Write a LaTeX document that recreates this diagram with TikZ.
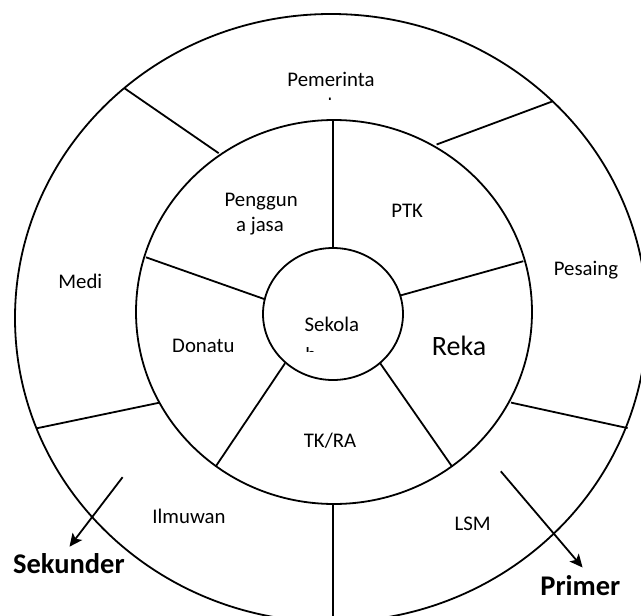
\documentclass[tikz,border=0pt]{standalone}
\usepackage{fontspec}
\setmainfont{Carlito}
\usetikzlibrary{arrows.meta}
\begin{document}
\begin{tikzpicture}[x=1pt,y=-1pt,line width=1.8pt,
  lbl/.style={font=\fontsize{20.8}{24}\selectfont,anchor=base,inner sep=0pt},
  frag/.style={font=\fontsize{20.8}{24}\selectfont,anchor=base west,inner sep=0pt},
  big/.style={font=\fontsize{28}{32}\selectfont,anchor=base,inner sep=0pt},
  bigb/.style={font=\fontsize{28.5}{32}\selectfont\bfseries,anchor=base,inner sep=0pt},
  arr/.style={-{Stealth[length=13pt,width=12pt,inset=3pt]},line width=1.8pt}]
\clip (0,0) rectangle (641,616);
\fill[white] (0,0) rectangle (641,616);
% rings
\draw (331,318) ellipse [x radius=316pt, y radius=304pt];
\draw (334,312) ellipse [x radius=198pt, y radius=192pt];
\draw (333,314) ellipse [x radius=70pt, y radius=66pt];
% inner spokes
\coordinate (m1) at (333,121);   \coordinate (i1) at (333,248);
\coordinate (m2) at (523.3,261.2); \coordinate (i2) at (400.6,295.4);
\coordinate (m3) at (146,257.3);   \coordinate (i3) at (265,299.3);
\coordinate (m4) at (215.9,466.2); \coordinate (i4) at (285,363.3);
\coordinate (m5) at (451.8,466.2); \coordinate (i5) at (380.2,363.3);
\draw (m1) -- (i1);
\draw (m2) -- (i2);
\draw (m3) -- (i3);
\draw (m4) -- (i4);
\draw (m5) -- (i5);
% outer spokes
\coordinate (o1) at (124.7,88.4);  \coordinate (n1) at (218.7,153.2);
\coordinate (o2) at (552.7,101.3); \coordinate (n2) at (436.6,144.5);
\coordinate (o3) at (36.7,428.3);  \coordinate (n3) at (159.3,402.7);
\coordinate (o4) at (627.6,428.1); \coordinate (n4) at (511,402.6);
\coordinate (o5) at (333,620);     \coordinate (n5) at (333,504);
\draw (o1) -- (n1);
\draw (o2) -- (n2);
\draw (o3) -- (n3);
\draw (o4) -- (n4);
\draw (o5) -- (n5);
% labels
\node[lbl] (pem) at (331,86.7) {Pemerinta};
\node[lbl] (pes) at (586,275.3) {Pesaing};
\node[lbl] (med) at (80.3,288.7) {Medi};
\node[lbl] (ilm) at (189,523.6) {Ilmuwan};
\node[lbl] (lsm) at (472.6,530.2) {LSM};
\node[lbl] (pg1) at (261.2,206.7) {Penggun};
\node[lbl] (pg2) at (260,231.7) {a jasa};
\node[lbl] (ptk) at (407.2,217.2) {PTK};
\node[lbl] (don) at (203.4,352.3) {Donatu};
\node[lbl] (tk) at (330,447.8) {TK/RA};
\node[lbl] (sek) at (331.8,331.7) {Sekola};
\node[big] (rek) at (459,355.5) {Reka};
\node[bigb] (skd) at (68.9,573.3) {Sekunder};
\node[bigb] (prm) at (580.4,595) {Primer};
% cut-off fragments of second lines
\begin{scope}
\clip (300,347) rectangle (320,351.8);
\node[frag] (sekh) at (304.5,361) {h};
\end{scope}
\begin{scope}
\clip (320,97.5) rectangle (340,99.2);
\node[frag] (pemh) at (326.8,112.2) {h};
\end{scope}
% arrows
\coordinate (a1s) at (122.6,477.2); \coordinate (a1e) at (69.5,546.7);
\coordinate (a2s) at (500.8,471.3); \coordinate (a2e) at (582.6,567.5);
\draw[arr] (a1s) -- (a1e);
\draw[arr] (a2s) -- (a2e);
\end{tikzpicture}
\end{document}
